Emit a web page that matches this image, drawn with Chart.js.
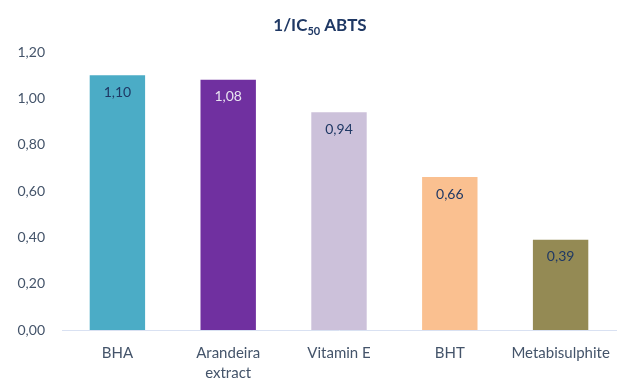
<!DOCTYPE html>
<html>
<head>
<meta charset="utf-8">
<script src="https://cdn.jsdelivr.net/npm/chart.js@4"></script>
<style>
  html, body { margin: 0; padding: 0; background: #fff; }
  #wrap { width: 626px; height: 379px; }
</style>
</head>
<body>
<div id="wrap"><canvas id="c" width="626" height="379"></canvas></div>
<script>
// data
const categories = ['BHA', ['Arandeira', 'extract'], 'Vitamin E', 'BHT', 'Metabisulphite'];
const values = [1.10, 1.08, 0.94, 0.66, 0.39];
const barColors = ['#4BACC6', '#7030A0', '#CCC1DA', '#FAC090', '#948A54'];
const labelColors = ['#1F3864', '#E8E4F0', '#1F3864', '#1F3864', '#1F3864'];

const FONT = "Lato, 'Open Sans', sans-serif";
const fmt = v => v.toFixed(2).replace('.', ',');

// title with subscript
const titlePlugin = {
  id: 'subTitle',
  afterDraw(chart) {
    const ctx = chart.ctx;
    ctx.save();
    ctx.fillStyle = '#1F3864';
    ctx.textBaseline = 'alphabetic';
    const big = 'bold 17px ' + FONT, small = 'bold 11px ' + FONT;
    const parts = [['1/IC', big, 0], ['50', small, 4], [' ABTS', big, 0]];
    let w = 0;
    parts.forEach(p => { ctx.font = p[1]; w += ctx.measureText(p[0]).width; });
    let x = 320 - w / 2;
    parts.forEach(p => {
      ctx.font = p[1];
      ctx.fillText(p[0], x, 31 + p[2]);
      x += ctx.measureText(p[0]).width;
    });
    ctx.restore();
  }
};

// value labels inside bars
const valueLabels = {
  id: 'valueLabels',
  afterDatasetsDraw(chart) {
    const ctx = chart.ctx;
    const meta = chart.getDatasetMeta(0);
    ctx.save();
    ctx.font = '14px ' + FONT;
    ctx.textAlign = 'center';
    ctx.textBaseline = 'middle';
    meta.data.forEach((bar, i) => {
      ctx.fillStyle = labelColors[i];
      ctx.fillText(fmt(values[i]), bar.x, bar.y + 17);
    });
    ctx.restore();
  }
};

new Chart(document.getElementById('c'), {
  type: 'bar',
  data: {
    labels: categories,
    datasets: [{
      data: values,
      backgroundColor: barColors,
      borderWidth: 0,
      barPercentage: 0.5,
      categoryPercentage: 1.0
    }]
  },
  options: {
    responsive: false,
    animation: false,
    layout: { padding: { top: 52, right: 10, left: 0, bottom: 0 } },
    plugins: {
      legend: { display: false },
      tooltip: { enabled: false },
      title: { display: false }
    },
    scales: {
      y: {
        min: 0,
        max: 1.2,
        ticks: {
          stepSize: 0.2,
          padding: 9,
          color: '#44546A',
          font: { family: FONT, size: 14 },
          callback: v => fmt(v)
        },
        grid: { display: false },
        border: { display: false },
        afterFit: s => { s.width = 62; }
      },
      x: {
        ticks: {
          color: '#44546A',
          padding: 5,
          maxRotation: 0,
          font: { family: FONT, size: 15, lineHeight: 1.33 }
        },
        grid: { display: false },
        border: { color: '#D9E1F2', width: 1 },
        afterFit: s => { s.height = 49; }
      }
    }
  },
  plugins: [titlePlugin, valueLabels]
});
</script>
</body>
</html>
